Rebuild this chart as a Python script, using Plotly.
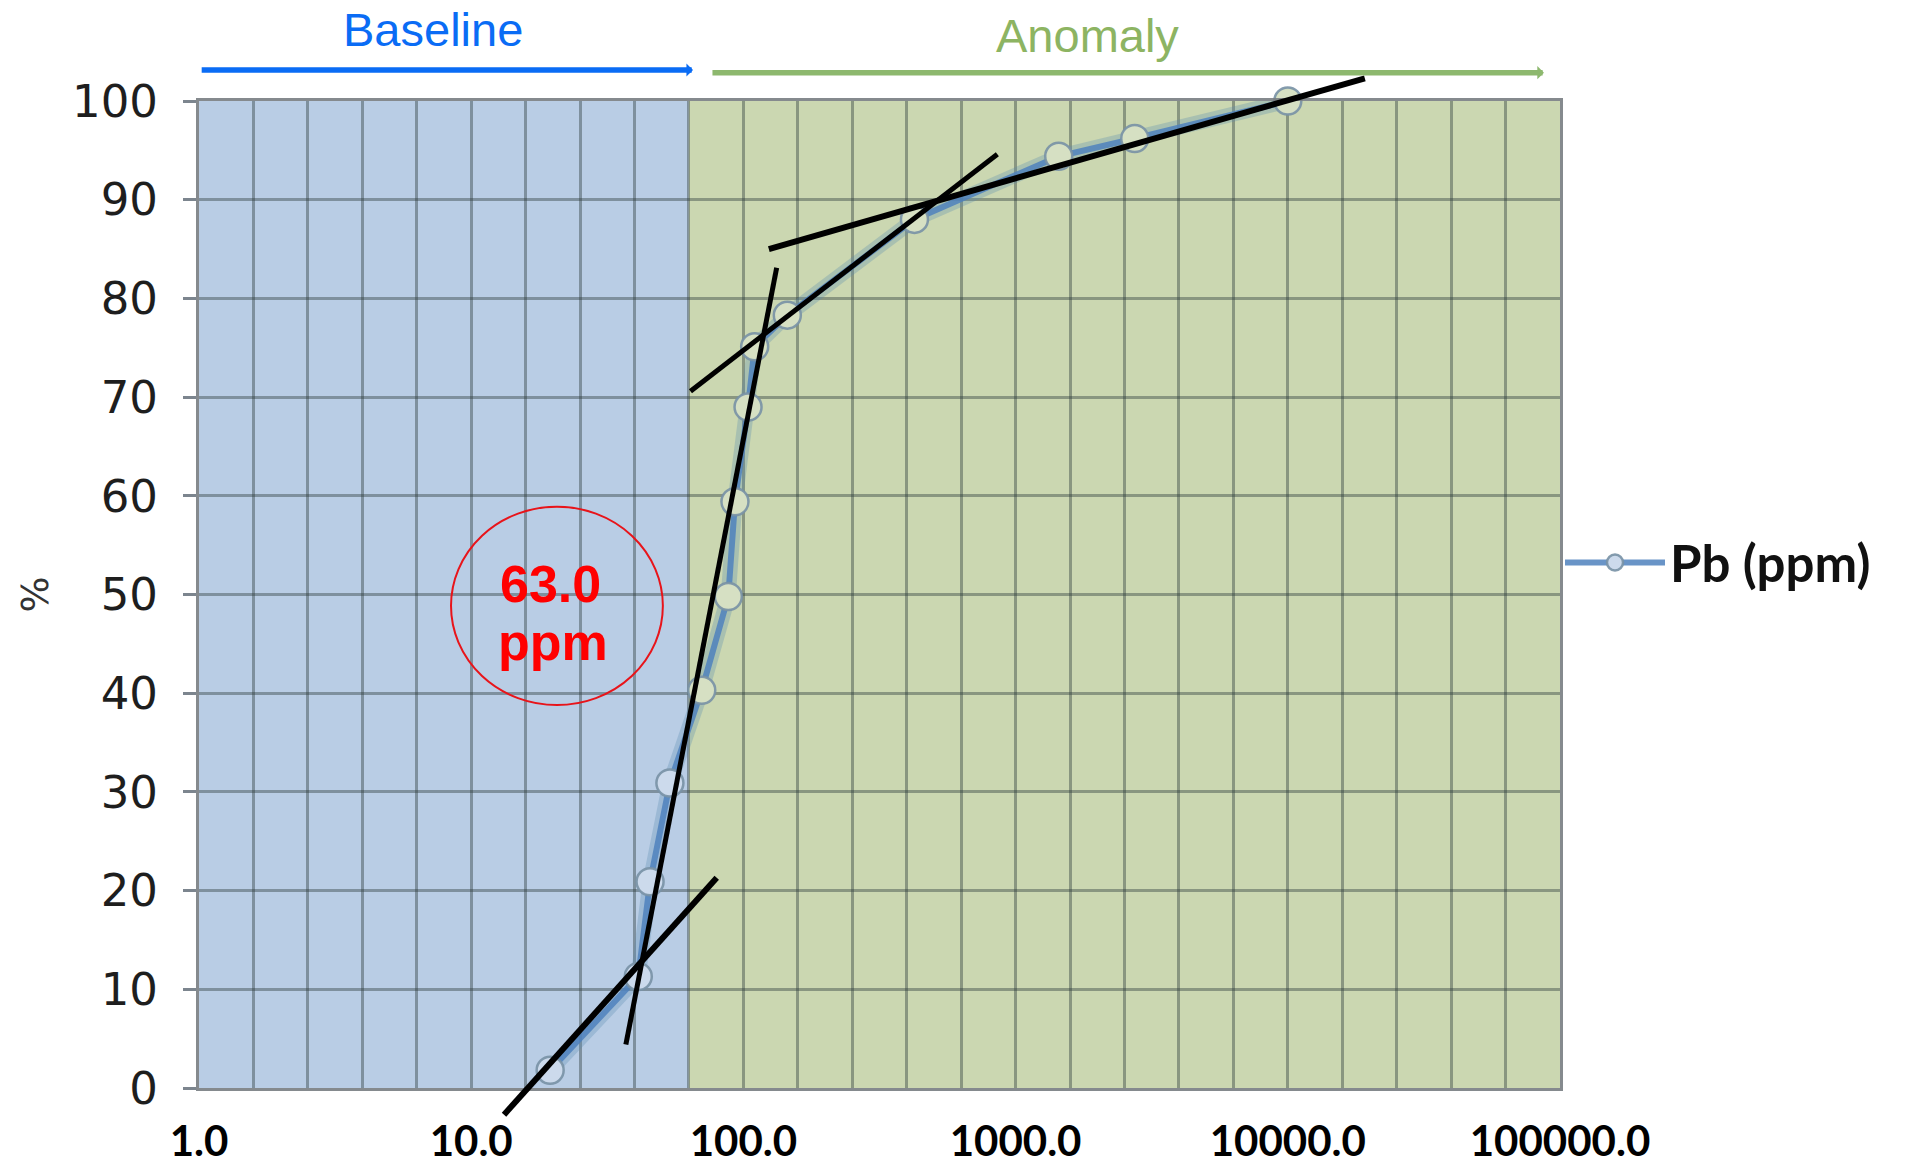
import math
import plotly.graph_objects as go

# ---------------- data ----------------
pb_ppm = [19.5, 41.1, 45.4, 53.7, 70.3, 88.0, 93.1, 104, 110, 145, 425, 1440, 2740, 10000]
cum_pct = [1.8, 11.3, 20.9, 30.9, 40.3, 49.8, 59.4, 69.0, 75.1, 78.3, 88.0, 94.4, 96.2, 100.0]
threshold_ppm = 63.0
x_decade_labels = ["1.0", "10.0", "100.0", "1000.0", "10000.0", "100000.0"]
y_ticks = [0, 10, 20, 30, 40, 50, 60, 70, 80, 90, 100]

# hand-drawn tangent lines (ppm, %)
tangent_x0 = [13.2, 37.0, 63.9, 124]
tangent_y0 = [-2.7, 4.4, 70.6, 85.0]
tangent_x1 = [79.8, 132.5, 857, 19190]
tangent_y1 = [21.3, 83.1, 94.6, 102.3]
tangent_w = [6, 5, 5, 6]

# red ellipse around threshold label (ppm, %)
ellipse_ppm = [8.43, 50.6]
ellipse_pct = [38.8, 58.9]

# range arrows (ppm)
baseline_arrow_ppm = [1.01, 65.3]
anomaly_arrow_ppm = [76.0, 87300]

# ---------------- figure ----------------
X_MIN, X_MAX = 1.0, 100000.0
BLUE_BG = "#B9CDE5"
GREEN_BG = "#CBD7B1"
GRID = "rgba(45,60,60,0.42)"
FRAME = "rgba(120,125,130,0.9)"

tickvals = [10 ** (k / 5) for k in range(26)]
ticktext = [x_decade_labels[k // 5] if k % 5 == 0 else "" for k in range(26)]

marker_fill = ["#CCDAEC" if v < threshold_ppm else "#D6E0C3" for v in pb_ppm]

fig = go.Figure()

# soft glow under the series line
fig.add_trace(go.Scatter(
    x=pb_ppm, y=cum_pct, mode="lines",
    line=dict(color="rgba(90,140,175,0.30)", width=15),
    hoverinfo="skip", showlegend=False, cliponaxis=False,
))
fig.add_trace(go.Scatter(
    x=pb_ppm, y=cum_pct, mode="lines+markers", name="Pb (ppm)",
    line=dict(color="rgba(79,129,189,0.85)", width=6),
    marker=dict(symbol="circle", size=27, color=marker_fill,
                line=dict(color="rgba(120,145,165,0.9)", width=2.5)),
    cliponaxis=False,
))

shapes = [
    dict(type="rect", xref="x", yref="y", x0=X_MIN, x1=threshold_ppm, y0=0, y1=100,
         fillcolor=BLUE_BG, line=dict(width=0), layer="below"),
    dict(type="rect", xref="x", yref="y", x0=threshold_ppm, x1=X_MAX, y0=0, y1=100,
         fillcolor=GREEN_BG, line=dict(width=0), layer="below"),
]
for x0, y0, x1, y1, w in zip(tangent_x0, tangent_y0, tangent_x1, tangent_y1, tangent_w):
    shapes.append(dict(type="line", xref="x", yref="paper",
                       x0=x0, y0=y0 / 100.0, x1=x1, y1=y1 / 100.0,
                       line=dict(color="black", width=w), layer="above"))
shapes.append(dict(type="circle", xref="x", yref="y",
                   x0=ellipse_ppm[0], x1=ellipse_ppm[1],
                   y0=ellipse_pct[0], y1=ellipse_pct[1],
                   line=dict(color="#E8141A", width=2), fillcolor="rgba(0,0,0,0)",
                   layer="above"))

lg = math.log10
annotations = [
    dict(text=f"{threshold_ppm:.1f}", xref="x", yref="y", x=1.29, y=51.1,
         xanchor="center", yanchor="middle",
         showarrow=False, font=dict(family="Liberation Sans", size=52, color="#FF0000", weight="bold")),
    dict(text="ppm", xref="x", yref="y", x=1.30, y=45.2,
         xanchor="center", yanchor="middle",
         showarrow=False, font=dict(family="Liberation Sans", size=52, color="#FF0000", weight="bold")),
    dict(text="Baseline", xref="x", yref="paper", x=0.86, y=1.0722,
         xanchor="center", yanchor="middle",
         showarrow=False, font=dict(family="Liberation Sans", size=47, color="#0A6CF5")),
    dict(text="Anomaly", xref="x", yref="paper", x=3.264, y=1.0662,
         xanchor="center", yanchor="middle",
         showarrow=False, font=dict(family="Liberation Sans", size=47, color="#8DB462")),
    dict(text="", xref="x", yref="paper", x=lg(baseline_arrow_ppm[1]), y=1.0314,
         axref="x", ayref="pixel", ax=lg(baseline_arrow_ppm[0]), ay=0,
         showarrow=True, arrowhead=1, arrowsize=0.4, arrowwidth=5.5,
         arrowcolor="#0A6CF5", standoff=0, startstandoff=0),
    dict(text="", xref="x", yref="paper", x=lg(anomaly_arrow_ppm[1]), y=1.0287,
         axref="x", ayref="pixel", ax=lg(anomaly_arrow_ppm[0]), ay=0,
         showarrow=True, arrowhead=1, arrowsize=0.4, arrowwidth=5.5,
         arrowcolor="#8DB86E", standoff=0, startstandoff=0),
]

fig.update_layout(
    template="none",
    width=1906, height=1171,
    margin=dict(l=199, r=346, t=101, b=83, autoexpand=False),
    paper_bgcolor="white", plot_bgcolor="white",
    font=dict(family="DejaVu Sans", color="#222222"),
    shapes=shapes, annotations=annotations,
    showlegend=True,
    legend=dict(x=1.0, y=0.532, xanchor="left", yanchor="middle",
                bgcolor="rgba(0,0,0,0)", borderwidth=0, itemwidth=100,
                font=dict(family="Lato", size=51, color="#111111", weight="bold")),
    xaxis=dict(
        type="log", range=[lg(X_MIN), lg(X_MAX)],
        tickmode="array", tickvals=tickvals, ticktext=ticktext,
        ticks="", showgrid=True, gridcolor=GRID, gridwidth=2.5,
        showline=True, mirror=True, linecolor=FRAME, linewidth=3,
        zeroline=False, automargin=False,
        tickfont=dict(family="Lato", size=42, color="#000000", weight="bold"),
        ticklabelstandoff=15,
    ),
    yaxis=dict(
        range=[0, 100], tickmode="array", tickvals=y_ticks,
        ticks="outside", ticklen=13, tickwidth=2.5, tickcolor="rgba(110,120,130,0.9)",
        showgrid=True, gridcolor=GRID, gridwidth=3,
        showline=True, mirror=True, linecolor=FRAME, linewidth=3,
        zeroline=False, automargin=False,
        tickfont=dict(family="DejaVu Sans", size=45, color="#1E1E1E"),
        ticklabelstandoff=16,
        title=dict(text="%", standoff=12, font=dict(family="DejaVu Sans", size=38, color="#333333")),
    ),
)

fig.write_html("out.html")
